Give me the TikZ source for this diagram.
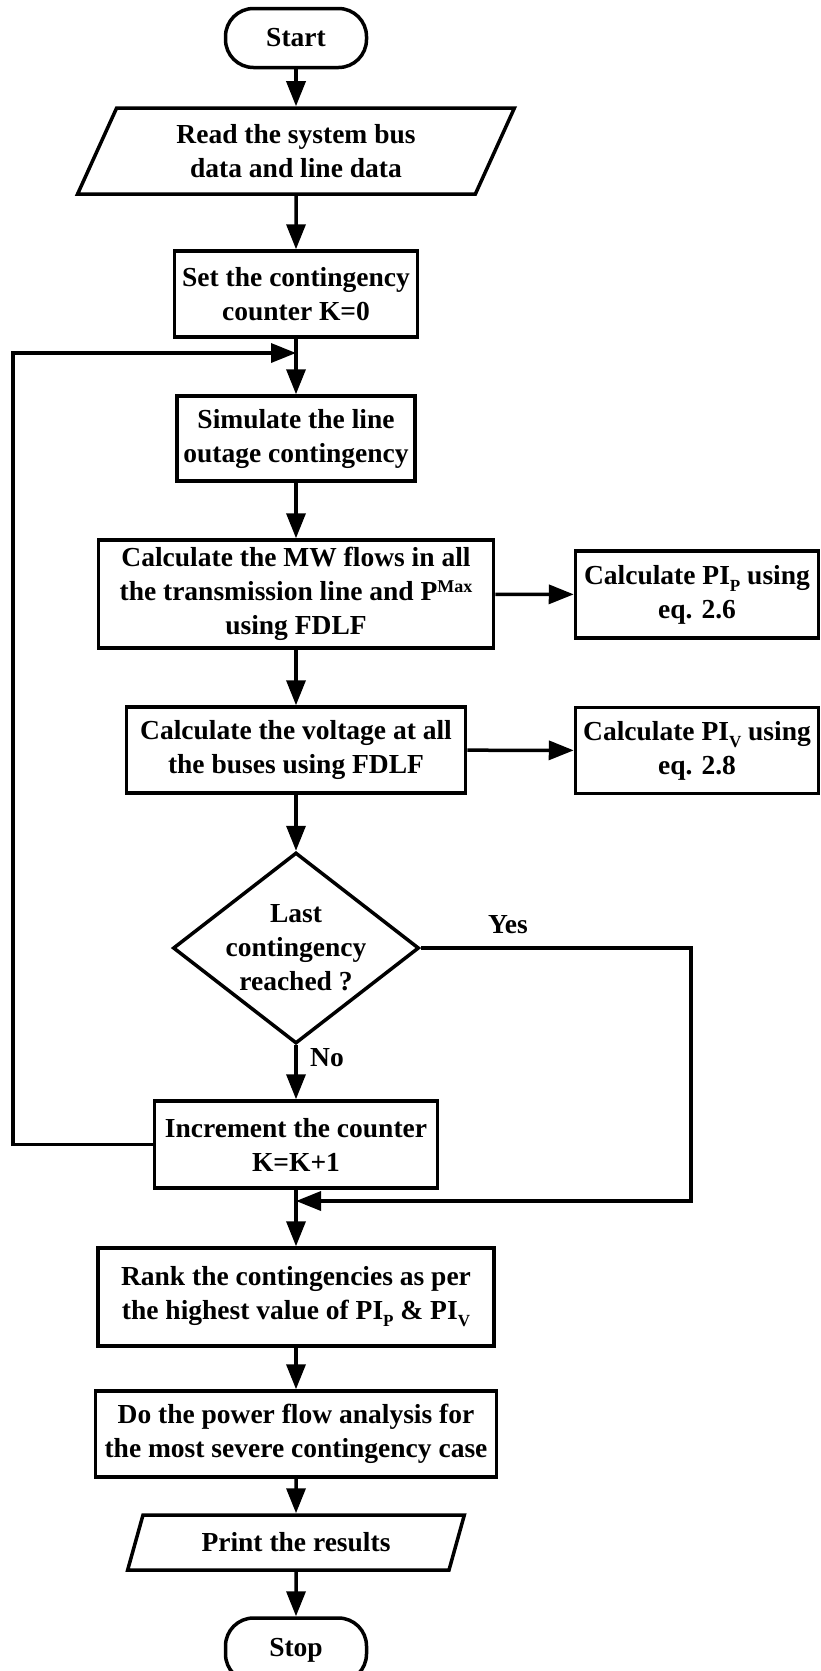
\documentclass[tikz,border=0pt]{standalone}
\usepackage{fontspec}
\setmainfont{Liberation Serif}
\usetikzlibrary{shapes.geometric,arrows.meta,calc}
\newcommand{\mysub}[1]{\raisebox{-7pt}{\fontsize{17}{17}\selectfont #1}}
\newcommand{\mysup}[1]{\raisebox{8pt}{\fontsize{18}{18}\selectfont #1}}
\begin{document}
\begin{tikzpicture}[x=1pt,y=-1pt,
  every node/.style={font=\bfseries\fontsize{27.5}{34}\selectfont, align=center},
  box/.style={draw, line width=3.5pt, rectangle, inner sep=0pt},
  term/.style={box, rounded corners=28pt, minimum width=141pt, minimum height=59pt},
  io/.style={draw, line width=3.5pt, trapezium, trapezium left angle=64, trapezium right angle=116, trapezium stretches=true, inner sep=0pt},
  arr/.style={line width=3.5pt, -{Triangle[length=25pt,width=19pt]}},
  ln/.style={line width=3.5pt}]
\useasboundingbox (0,0) rectangle (821,1671);

\node[term] (start) at (296,38) {Start};
\node[io, minimum width=437pt, minimum height=86pt] (read) at (296,151) {Read the system bus\\data and line data};
\node[box, minimum width=243pt, minimum height=86pt] (set) at (296,294) {Set the contingency\\counter K=0};
\node[box, minimum width=238pt, minimum height=85pt] (sim) at (296,438.5) {Simulate the line\\outage contingency};
\node[box, minimum width=395pt, minimum height=108pt] (mw) at (296,594) {Calculate the MW flows in all\\the transmission line and P\mysup{Max}\\using FDLF};
\node[box, minimum width=243pt, minimum height=87pt] (pip) at (697,594.5) {Calculate PI\mysub{P} using\\eq. 2.6};
\node[box, minimum width=339pt, minimum height=86pt] (volt) at (296,750) {Calculate the voltage at all\\the buses using FDLF};
\node[box, minimum width=243pt, minimum height=86pt] (piv) at (697,750.5) {Calculate PI\mysub{V} using\\eq. 2.8};
\node[diamond, draw, line width=3.5pt, minimum width=246pt, minimum height=191pt, inner sep=0pt] (dec) at (296,948) {};
\node (dectext) at (dec) {Last\\contingency\\reached ?};
\node[box, minimum width=283pt, minimum height=87pt] (incr) at (296,1144.5) {Increment the counter\\K=K+1};
\node[box, minimum width=396pt, minimum height=98pt] (rank) at (296,1297) {Rank the contingencies as per\\the highest value of PI\mysub{P} \& PI\mysub{V}};
\node[box, minimum width=401pt, minimum height=86pt] (do) at (296,1434) {Do the power flow analysis for\\the most severe contingency case};
\node[io, minimum width=337pt, minimum height=55pt] (print) at (296,1542.5) {Print the results};
\node[term, minimum height=64pt] (stop) at (296,1650) {Stop};

\node (yes) at (508,925) {Yes};
\node (no) at (327,1058) {No};

\coordinate (j1) at (296,353);
\coordinate (lb) at (13,1144.5);
\coordinate (ry) at (691,948);
\coordinate (j2) at (296,1201);

\draw[arr] (start) -- (read);
\draw[arr] (read) -- (set);
\draw[arr] (set) -- (sim);
\draw[arr] (sim) -- (mw);
\draw[arr] (mw) -- (pip);
\draw[arr] (mw) -- (volt);
\draw[arr] (volt) -- (piv);
\draw[arr] (volt) -- (dec);
\draw[arr] (dec) -- (incr);
\draw[arr] (incr.west) -- (lb) |- (j1);
\draw[arr] (dec.east) -- (ry) |- (j2);
\draw[arr] (incr) -- (rank);
\draw[arr] (rank) -- (do);
\draw[arr] (do) -- (print);
\draw[arr] (print) -- (stop);
\end{tikzpicture}
\end{document}
